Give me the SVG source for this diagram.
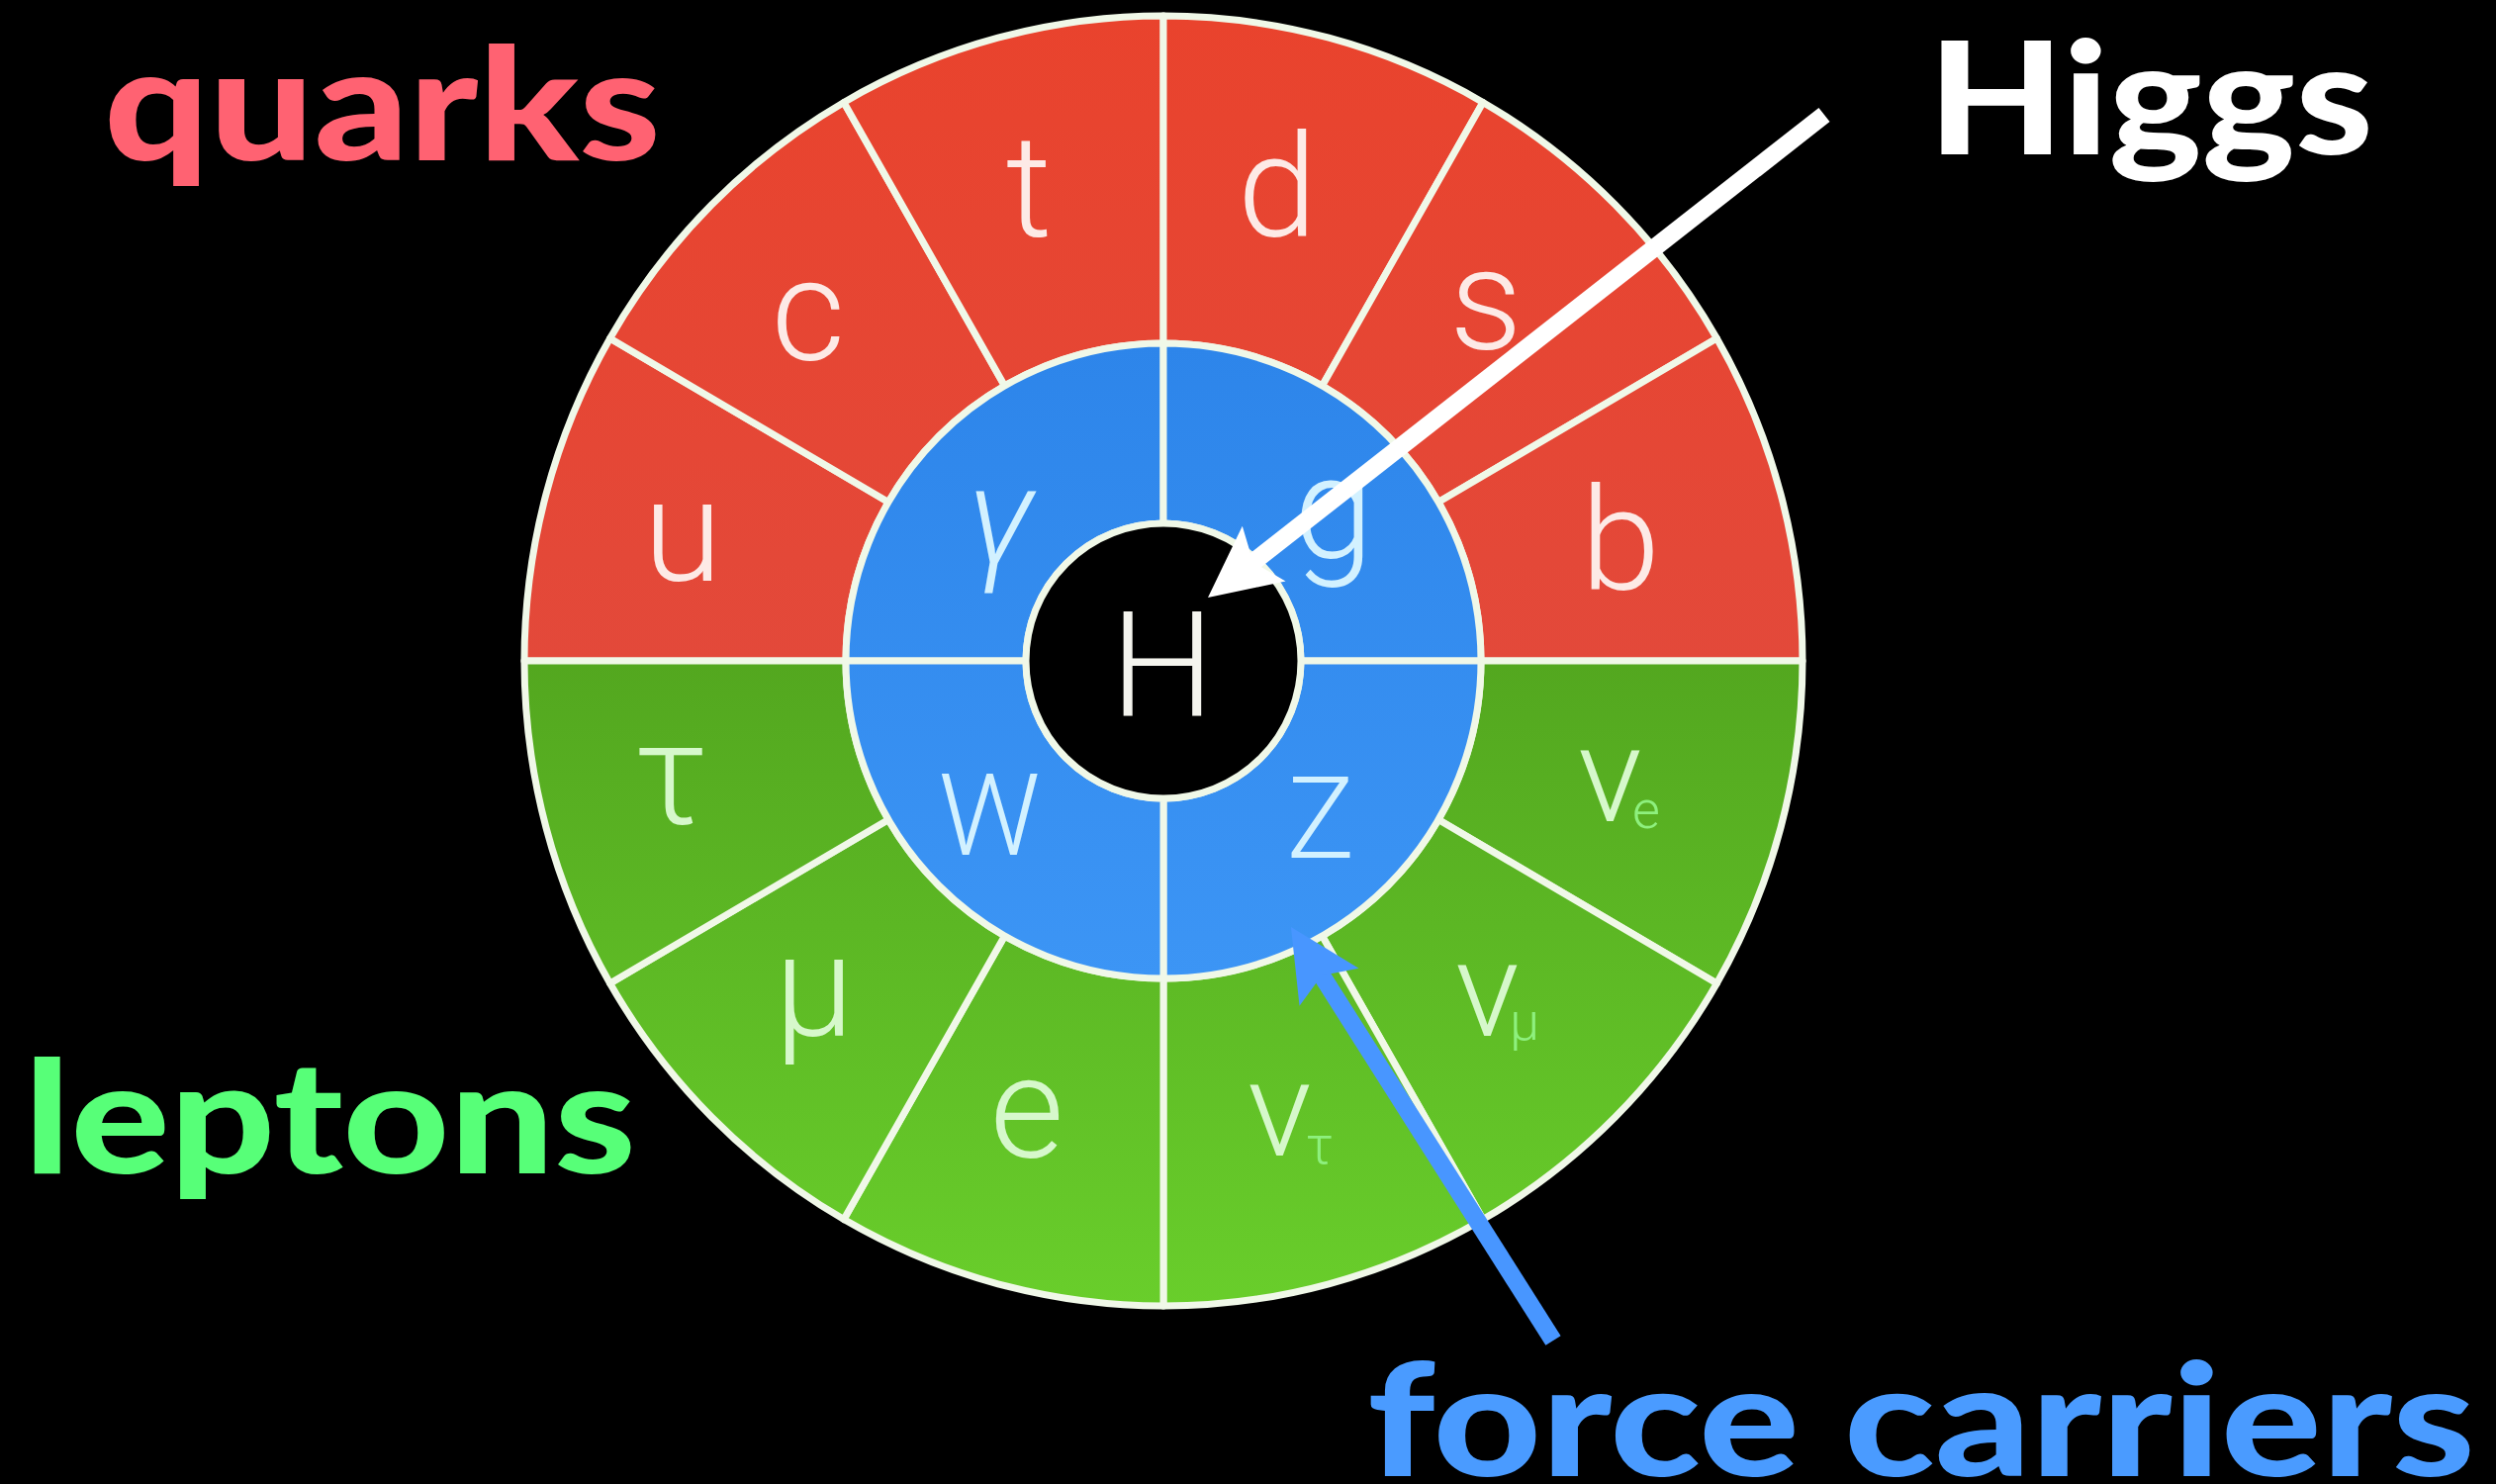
<svg xmlns="http://www.w3.org/2000/svg" width="2523" height="1500" viewBox="0 0 2523 1500">
  <defs>
    <linearGradient id="redFill" gradientUnits="userSpaceOnUse" x1="0" y1="16" x2="0" y2="668">
      <stop offset="0" stop-color="#E9432D"/>
      <stop offset="1" stop-color="#E3493A"/>
    </linearGradient>
    <linearGradient id="greenFill" gradientUnits="userSpaceOnUse" x1="0" y1="668" x2="0" y2="1320">
      <stop offset="0" stop-color="#53A71F"/>
      <stop offset="1" stop-color="#69CE2B"/>
    </linearGradient>
    <linearGradient id="blueFill" gradientUnits="userSpaceOnUse" x1="0" y1="347" x2="0" y2="989">
      <stop offset="0" stop-color="#2D85EA"/>
      <stop offset="1" stop-color="#3C95F5"/>
    </linearGradient>
    <marker id="headWhite" markerUnits="userSpaceOnUse" markerWidth="80" markerHeight="80" refX="17" refY="36" orient="auto" overflow="visible">
      <path d="M72,36 L0,0.5 L14,36 L0,71.5 Z" fill="#FFFFFF"/>
    </marker>
    <marker id="headBlue" markerUnits="userSpaceOnUse" markerWidth="80" markerHeight="80" refX="17" refY="36" orient="auto" overflow="visible">
      <path d="M72,36 L0,0.5 L14,36 L0,71.5 Z" fill="#4896FF"/>
    </marker>
  </defs>
  <style>
    .cell { stroke: #F0F8E8; stroke-width: 7; stroke-linejoin: round; }
    .quark { fill: url(#redFill); }
    .lepton { fill: url(#greenFill); }
    .boson { fill: url(#blueFill); }
    .sym { font-family: Roboto, "Liberation Sans", sans-serif; font-weight: 300; text-anchor: middle; }
    .sym-q { fill: #FDEAE6; font-size: 145px; }
    .sym-l { fill: #D6F8CB; font-size: 145px; }
    .sym-b { fill: #D2F1FF; }
    .nu { font-family: Roboto, "Liberation Sans", sans-serif; font-weight: 300; fill: #D6F8CB; font-size: 135px; }
    .sub { fill: #8EF07E; font-size: 54px; }
    .title { font-family: Lato, "Open Sans", "Liberation Sans", sans-serif; font-weight: 900; font-size: 158px; }
    .arrow { fill: none; stroke-width: 18; stroke-linecap: butt; }
  </style>

  <rect x="0" y="0" width="2523" height="1500" fill="#000000"/>

  <!-- quarks: upper half of the outer ring -->
  <g id="quark-u">
    <path class="cell quark" d="M855,668 L530,668 A646 652 0 0 1 616.6,342 L898,507.5 A321 321 0 0 0 855,668 Z"/>
    <text class="sym sym-q" x="690" y="587">u</text>
  </g>
  <g id="quark-c">
    <path class="cell quark" d="M898,507.5 L616.6,342 A646 652 0 0 1 853,103.4 L1015.5,390 A321 321 0 0 0 898,507.5 Z"/>
    <text class="sym sym-q" x="817" y="364">c</text>
  </g>
  <g id="quark-t">
    <path class="cell quark" d="M1015.5,390 L853,103.4 A646 652 0 0 1 1176,16 L1176,347 A321 321 0 0 0 1015.5,390 Z"/>
    <text class="sym sym-q" x="1040" y="239">t</text>
  </g>
  <g id="quark-d">
    <path class="cell quark" d="M1176,347 L1176,16 A646 652 0 0 1 1499,103.4 L1336.5,390 A321 321 0 0 0 1176,347 Z"/>
    <text class="sym sym-q" x="1291" y="239">d</text>
  </g>
  <g id="quark-s">
    <path class="cell quark" d="M1336.5,390 L1499,103.4 A646 652 0 0 1 1735.4,342 L1454,507.5 A321 321 0 0 0 1336.5,390 Z"/>
    <text class="sym sym-q" x="1502" y="353">s</text>
  </g>
  <g id="quark-b">
    <path class="cell quark" d="M1454,507.5 L1735.4,342 A646 652 0 0 1 1822,668 L1497,668 A321 321 0 0 0 1454,507.5 Z"/>
    <text class="sym sym-q" x="1638" y="596">b</text>
  </g>

  <!-- leptons: lower half of the outer ring -->
  <g id="lepton-nu-e">
    <path class="cell lepton" d="M1497,668 L1822,668 A646 652 0 0 1 1735.4,994 L1454,828.5 A321 321 0 0 0 1497,668 Z"/>
    <text class="nu" x="1595" y="830">ν<tspan class="sub" dx="-10" dy="7">e</tspan></text>
  </g>
  <g id="lepton-nu-mu">
    <path class="cell lepton" d="M1454,828.5 L1735.4,994 A646 652 0 0 1 1499,1232.6 L1336.5,946 A321 321 0 0 0 1454,828.5 Z"/>
    <text class="nu" x="1471" y="1047">ν<tspan class="sub" dx="-10" dy="4">μ</tspan></text>
  </g>
  <g id="lepton-nu-tau">
    <path class="cell lepton" d="M1336.5,946 L1499,1232.6 A646 652 0 0 1 1176,1320 L1176,989 A321 321 0 0 0 1336.5,946 Z"/>
    <text class="nu" x="1261" y="1168">ν<tspan class="sub" dx="-6" dy="8">τ</tspan></text>
  </g>
  <g id="lepton-e">
    <path class="cell lepton" d="M1176,989 L1176,1320 A646 652 0 0 1 853,1232.6 L1015.5,946 A321 321 0 0 0 1176,989 Z"/>
    <text class="sym sym-l" x="1038" y="1170">e</text>
  </g>
  <g id="lepton-mu">
    <path class="cell lepton" d="M1015.5,946 L853,1232.6 A646 652 0 0 1 616.6,994 L898,828.5 A321 321 0 0 0 1015.5,946 Z"/>
    <text class="sym sym-l" x="823" y="1047">μ</text>
  </g>
  <g id="lepton-tau">
    <path class="cell lepton" d="M898,828.5 L616.6,994 A646 652 0 0 1 530,668 L855,668 A321 321 0 0 0 898,828.5 Z"/>
    <text class="sym sym-l" x="678" y="833">τ</text>
  </g>

  <!-- force carriers: inner blue ring -->
  <g id="boson-photon">
    <path class="cell boson" d="M1037,668 L855,668 A321 321 0 0 1 1176,347 L1176,529 A139 139 0 0 0 1037,668 Z"/>
    <text class="sym sym-b" x="1011" y="571" font-size="140" font-style="italic">γ</text>
  </g>
  <g id="boson-gluon">
    <path class="cell boson" d="M1176,529 L1176,347 A321 321 0 0 1 1497,668 L1315,668 A139 139 0 0 0 1176,529 Z"/>
    <text class="sym sym-b" x="1348" y="563" font-size="145">g</text>
  </g>
  <g id="boson-z">
    <path class="cell boson" d="M1315,668 L1497,668 A321 321 0 0 1 1176,989 L1176,807 A139 139 0 0 0 1315,668 Z"/>
    <text class="sym sym-b" x="1335" y="867" font-size="115">Z</text>
  </g>
  <g id="boson-w">
    <path class="cell boson" d="M1176,807 L1176,989 A321 321 0 0 1 855,668 L1037,668 A139 139 0 0 0 1176,807 Z"/>
    <text class="sym sym-b" x="1000" y="864" font-size="115">W</text>
  </g>

  <!-- Higgs at the centre -->
  <g id="higgs">
    <circle cx="1176" cy="668" r="139" fill="#000000" stroke="#F0F8E8" stroke-width="7"/>
    <text class="sym" x="1175" y="724" font-size="149" fill="#F4F4EE">H</text>
  </g>

  <!-- group titles -->
  <g id="label-quarks">
    <text class="title" x="105" y="162" fill="#FF6272" textLength="563" lengthAdjust="spacingAndGlyphs">quarks</text>
  </g>
  <g id="label-higgs">
    <text class="title" x="1949" y="156" fill="#FFFFFF" textLength="450" lengthAdjust="spacingAndGlyphs">Higgs</text>
  </g>
  <g id="label-leptons">
    <text class="title" x="24" y="1186" fill="#57FF78" textLength="619" lengthAdjust="spacingAndGlyphs">leptons</text>
  </g>
  <g id="label-force-carriers">
    <text class="title" x="1382" y="1492" fill="#4A9BFF" textLength="1120" lengthAdjust="spacingAndGlyphs">force carriers</text>
  </g>

  <!-- pointer arrows -->
  <g id="connectors">
    <line class="arrow" x1="1844" y1="116" x2="1264.3" y2="570.1" stroke="#FFFFFF" marker-end="url(#headWhite)"/>
    <line class="arrow" x1="1570" y1="1355" x2="1334.4" y2="983.5" stroke="#4896FF" marker-end="url(#headBlue)"/>
  </g>
</svg>
